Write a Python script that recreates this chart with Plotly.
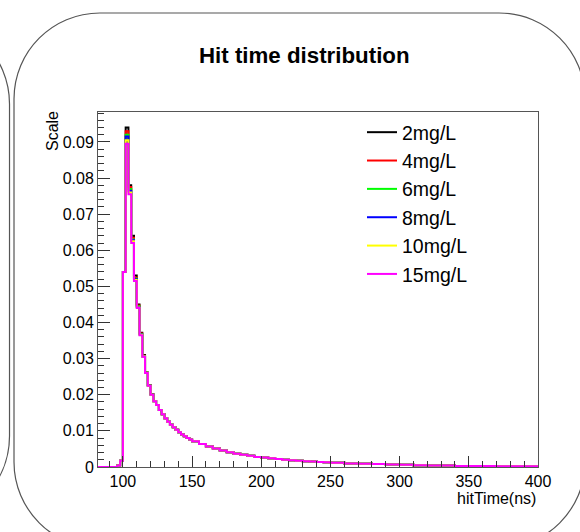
import plotly.graph_objects as go

# bin edges (ns): one empty bin, 2 ns bins up to 150, 5 ns to 250, 10 ns to 400
edges = [82] + list(range(96, 150, 2)) + list(range(150, 250, 5)) + list(range(250, 401, 10))

# first 15 bins (82-124 ns) read per concentration
head_2mg = [0, 0.0004, 0.0017, 0.054, 0.094, 0.078, 0.064, 0.053, 0.0450, 0.0372, 0.0310, 0.0262, 0.0227, 0.0202, 0.0183]
head_4mg = [0, 0.0004, 0.0017, 0.054, 0.093, 0.0775, 0.0635, 0.0525, 0.0447, 0.0370, 0.0308, 0.0261, 0.0226, 0.0201, 0.0182]
head_6mg = [0, 0.0004, 0.0017, 0.054, 0.092, 0.077, 0.063, 0.0522, 0.0445, 0.0368, 0.0307, 0.0261, 0.0226, 0.0201, 0.0182]
head_8mg = [0, 0.0004, 0.0017, 0.054, 0.0915, 0.0765, 0.0628, 0.0520, 0.0443, 0.0367, 0.0306, 0.0260, 0.0225, 0.0200, 0.0182]
head_10mg = [0, 0.0004, 0.0017, 0.054, 0.0905, 0.076, 0.0625, 0.0518, 0.0442, 0.0366, 0.0306, 0.0260, 0.0225, 0.0200, 0.0182]
head_15mg = [0, 0.0004, 0.0017, 0.054, 0.0895, 0.0755, 0.0620, 0.0515, 0.0440, 0.0365, 0.0305, 0.0260, 0.0225, 0.0200, 0.0182]

# tail from 124 ns on, the six curves lie on top of each other
tail = [0.0172, 0.0158, 0.0146, 0.0135, 0.0125, 0.0117, 0.0110, 0.0103, 0.0096, 0.0090, 0.0085, 0.0080, 0.0076,
        0.0071, 0.0064, 0.0057, 0.0051, 0.0046, 0.0041, 0.0037, 0.0034, 0.0031, 0.0028,
        0.0026, 0.0024, 0.0022, 0.0020, 0.0019, 0.0017, 0.0016, 0.0015, 0.0014, 0.0013,
        0.0012, 0.0010, 0.0009, 0.0008, 0.0007, 0.0006, 0.0005, 0.0004, 0.0004, 0.0003,
        0.0003, 0.0003, 0.0002, 0.0002, 0.0002]

names = ['2mg/L', '4mg/L', '6mg/L', '8mg/L', '10mg/L', '15mg/L']
heads = [head_2mg, head_4mg, head_6mg, head_8mg, head_10mg, head_15mg]
colors = ['#000000', '#ff0000', '#00ff00', '#0000ff', '#ffff00', '#ff00ff']

FONT = 'Liberation Sans'
W, H = 580, 532
L, R, T, B = 98, 538, 112, 467   # plot frame in pixels


def px2x(px):
    return (px - L) / (R - L)


def py2y(py):
    return (B - py) / (B - T)


def rounded_path(x0, y0, x1, y1, r):
    k = 0.5523 * r
    pts = [
        ('M', [(x0 + r, y0)]),
        ('L', [(x1 - r, y0)]),
        ('C', [(x1 - r + k, y0), (x1, y0 + r - k), (x1, y0 + r)]),
        ('L', [(x1, y1 - r)]),
        ('C', [(x1, y1 - r + k), (x1 - r + k, y1), (x1 - r, y1)]),
        ('L', [(x0 + r, y1)]),
        ('C', [(x0 + r - k, y1), (x0, y1 - r + k), (x0, y1 - r)]),
        ('L', [(x0, y0 + r)]),
        ('C', [(x0, y0 + r - k), (x0 + r - k, y0), (x0 + r, y0)]),
    ]
    s = ''
    for cmd, ps in pts:
        s += cmd + ' '.join('%.4f,%.4f' % (px2x(a), py2y(b)) for a, b in ps) + ' '
    return s + 'Z'


fig = go.Figure()
for name, head, col in zip(names, heads, colors):
    vals = head + tail
    fig.add_trace(go.Scatter(
        x=edges, y=vals + [vals[-1]],
        mode='lines', name=name,
        line=dict(color=col, width=2, shape='hv'),
        hoverinfo='skip'))

fig.update_layout(
    width=W, height=H,
    margin=dict(l=L, r=W - R, t=T, b=H - B, pad=0),
    paper_bgcolor='white', plot_bgcolor='white',
    font=dict(family=FONT, color='black', size=16),
    showlegend=True,
    legend=dict(x=px2x(362), y=py2y(113), xanchor='left', yanchor='top',
                bgcolor='rgba(0,0,0,0)', font=dict(size=19.5), itemwidth=30,
                tracegroupgap=0),
    shapes=[
        dict(type='path', xref='paper', yref='paper', path=rounded_path(14, 13, 585, 548, 86),
             line=dict(color='#555555', width=1.2)),
        dict(type='path', xref='paper', yref='paper', path=rounded_path(-400, 18, 9.5, 522, 86),
             line=dict(color='#555555', width=1.2)),
    ],
    annotations=[
        dict(text='<b>Hit time distribution</b>', xref='paper', yref='paper',
             x=px2x(304), y=py2y(55), xanchor='center', yanchor='middle',
             showarrow=False, font=dict(size=22.3)),
        dict(text='hitTime(ns)', xref='paper', yref='paper', x=1, y=py2y(488),
             xanchor='right', yanchor='top', showarrow=False, font=dict(size=16)),
        dict(text='Scale', xref='paper', yref='paper', x=px2x(52), y=py2y(109),
             xanchor='center', yanchor='top', textangle=-90, showarrow=False, font=dict(size=16)),
    ],
)

fig.update_xaxes(range=[82, 400], dtick=50, tick0=0, ticks='inside', ticklen=11,
                 tickcolor='#333333', showgrid=False, zeroline=False,
                 showline=True, linecolor='#555555', linewidth=1, mirror=True,
                 tickfont=dict(size=16),
                 minor=dict(ticks='inside', ticklen=6, dtick=10, tickcolor='#333333', showgrid=False))
fig.update_yaxes(range=[0, 0.0983], dtick=0.01, tick0=0, ticks='inside', ticklen=12,
                 tickcolor='#333333', showgrid=False, zeroline=False,
                 showline=True, linecolor='#555555', linewidth=1, mirror=True,
                 tickfont=dict(size=16),
                 minor=dict(ticks='inside', ticklen=6, dtick=0.002, tickcolor='#333333', showgrid=False))

# the page body has an 8px default margin; drop it so the figure sits at the window corner
fig.write_html("out.html", config={'displayModeBar': False},
               post_script="document.body.style.margin='0';")
